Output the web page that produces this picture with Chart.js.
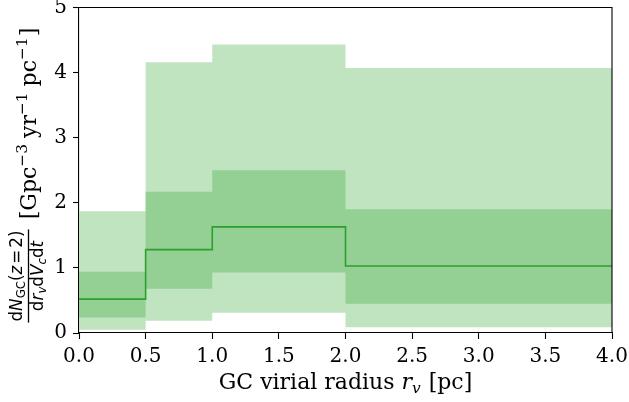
<!DOCTYPE html>
<html><head><meta charset="utf-8">
<script src="https://cdn.jsdelivr.net/npm/chart.js@4.4.0/dist/chart.umd.min.js"></script>
<style>html,body{margin:0;padding:0;background:#fff}#wrap{width:629px;height:402px}</style>
</head><body><div id="wrap"><canvas id="c" width="629" height="402"></canvas></div>
<script>
// Bin edges (GC virial radius, pc) and per-bin values
const binEdges = [0, 0.5, 1, 2, 4];
const median    = [0.52, 1.28, 1.63, 1.03];
const innerLow  = [0.24, 0.68, 0.93, 0.45];
const innerHigh = [0.94, 2.17, 2.50, 1.90];
const outerLow  = [0.05, 0.19, 0.31, 0.09];
const outerHigh = [1.87, 4.16, 4.43, 4.07];
const xTicks = [0, 0.5, 1, 1.5, 2, 2.5, 3, 3.5, 4];
const yTicks = [0, 1, 2, 3, 4, 5];

// point i sits at the left edge of bin i (last edge repeats the last bin)
function steps(vals) {
  return binEdges.map((x, i) => ({ x: x, y: vals[Math.min(i, vals.length - 1)] }));
}

const FS = 20;     // tick labels
const LS = 22;     // axis labels
const SERIF = '"DejaVu Serif", serif';
const SANS = '"DejaVu Sans", sans-serif';
const GREEN = '#2ca02c';
const LIGHT = '#c0e3c0';
const DARK = '#94cf94';
const NONE = 'rgba(0,0,0,0)';

function runsWidth(ctx, runs) {
  let w = 0;
  for (const r of runs) { ctx.font = r.f; w += ctx.measureText(r.t).width + (r.gap || 0); }
  return w;
}
function drawRuns(ctx, runs, x, y) {
  for (const r of runs) {
    ctx.font = r.f;
    ctx.fillText(r.t, x, y + (r.dy || 0));
    x += ctx.measureText(r.t).width + (r.gap || 0);
  }
}

const labelsPlugin = {
  id: 'labels',
  afterDraw(chart) {
    const ctx = chart.ctx;
    const a = chart.chartArea;
    ctx.save();
    // top and right spines
    ctx.strokeStyle = '#000';
    ctx.lineWidth = 1.1;
    ctx.beginPath();
    ctx.moveTo(a.left, a.top); ctx.lineTo(a.right, a.top); ctx.lineTo(a.right, a.bottom);
    ctx.stroke();

    ctx.fillStyle = '#000';
    ctx.textBaseline = 'alphabetic';
    ctx.textAlign = 'left';
    // x label
    const xr = [
      { t: 'GC virial radius ', f: LS + 'px ' + SERIF },
      { t: 'r', f: 'italic ' + LS + 'px ' + SERIF },
      { t: 'v', f: 'italic ' + (LS * 0.7) + 'px ' + SERIF, dy: 3.5, gap: 1 },
      { t: ' [pc]', f: LS + 'px ' + SERIF }
    ];
    const xw = runsWidth(ctx, xr);
    drawRuns(ctx, xr, (a.left + a.right) / 2 - xw / 2, 389);

    // y label (rotated)
    ctx.rotate(-Math.PI / 2);
    const NS = 16.8, NSS = NS * 0.7;
    const num = [
      { t: 'd', f: NS + 'px ' + SANS },
      { t: 'N', f: 'italic ' + NS + 'px ' + SANS },
      { t: 'GC', f: NSS + 'px ' + SANS, dy: 3 },
      { t: '(', f: NS + 'px ' + SANS },
      { t: 'z', f: 'italic ' + NS + 'px ' + SANS, gap: 2 },
      { t: '=', f: NS + 'px ' + SANS, gap: 2 },
      { t: '2', f: NS + 'px ' + SANS },
      { t: ')', f: NS + 'px ' + SANS }
    ];
    const den = [
      { t: 'd', f: NS + 'px ' + SANS },
      { t: 'r', f: 'italic ' + NS + 'px ' + SANS },
      { t: 'v', f: 'italic ' + NSS + 'px ' + SANS, dy: 3 },
      { t: 'd', f: NS + 'px ' + SANS },
      { t: 'V', f: 'italic ' + NS + 'px ' + SANS },
      { t: 'c', f: 'italic ' + NSS + 'px ' + SANS, dy: 3 },
      { t: 'd', f: NS + 'px ' + SANS },
      { t: 't', f: 'italic ' + NS + 'px ' + SANS }
    ];
    const fc = 276;
    const nw = runsWidth(ctx, num), dw = runsWidth(ctx, den);
    drawRuns(ctx, num, -(fc + nw / 2), 22);
    drawRuns(ctx, den, -(fc + dw / 2), 43);
    const bw = Math.max(nw, dw) + 2;
    ctx.lineWidth = 1.3;
    ctx.beginPath();
    ctx.moveTo(-(fc + bw / 2), 28.5); ctx.lineTo(-(fc - bw / 2), 28.5);
    ctx.stroke();

    const SS = LS * 0.7, sup = -9;
    const br = [
      { t: '[Gpc', f: LS + 'px ' + SERIF },
      { t: '\u22123', f: SS + 'px ' + SERIF, dy: sup, gap: 6 },
      { t: 'yr', f: LS + 'px ' + SERIF },
      { t: '\u22121', f: SS + 'px ' + SERIF, dy: sup, gap: 6 },
      { t: 'pc', f: LS + 'px ' + SERIF },
      { t: '\u22121', f: SS + 'px ' + SERIF, dy: sup, gap: 1 },
      { t: ']', f: LS + 'px ' + SERIF }
    ];
    const bwid = runsWidth(ctx, br);
    drawRuns(ctx, br, -(123.5 + bwid / 2), 36);
    ctx.restore();
  }
};

function ds(vals, opts) {
  return Object.assign({
    data: steps(vals), stepped: 'before', pointRadius: 0, pointHoverRadius: 0,
    borderColor: NONE, borderWidth: 1, fill: false, tension: 0
  }, opts);
}

const tickFont = { family: SERIF, size: FS };

new Chart(document.getElementById('c'), {
  type: 'line',
  data: {
    datasets: [
      ds(median, { borderColor: GREEN, borderWidth: 1.6 }),
      ds(innerHigh, { fill: 2, backgroundColor: DARK }),
      ds(innerLow, {}),
      ds(outerHigh, { fill: 4, backgroundColor: LIGHT }),
      ds(outerLow, {})
    ]
  },
  options: {
    responsive: false, animation: false, devicePixelRatio: 1,
    layout: { padding: { top: 7.5, right: 17, left: 0, bottom: 0 } },
    plugins: { legend: { display: false }, tooltip: { enabled: false } },
    events: [],
    scales: {
      x: {
        type: 'linear', min: 0, max: 4, z: 1,
        afterBuildTicks: s => { s.ticks = xTicks.map(v => ({ value: v })); },
        afterFit: s => { s.height = 69; s.paddingLeft = 0; s.paddingRight = 0; },
        ticks: { font: tickFont, color: '#000', padding: 6, maxRotation: 0, autoSkip: false,
                 callback: v => Number(v).toFixed(1) },
        grid: { drawOnChartArea: false, drawTicks: true, tickLength: 6, tickWidth: 1.1, tickColor: '#000' },
        border: { display: true, color: '#000', width: 1.1 }
      },
      y: {
        type: 'linear', min: 0, max: 5, z: 1,
        afterBuildTicks: s => { s.ticks = yTicks.map(v => ({ value: v })); },
        afterFit: s => { s.width = 79; s.paddingTop = 0; s.paddingBottom = 0; },
        ticks: { font: tickFont, color: '#000', padding: 6, autoSkip: false,
                 callback: v => String(v) },
        grid: { drawOnChartArea: false, drawTicks: true, tickLength: 6, tickWidth: 1.1, tickColor: '#000' },
        border: { display: true, color: '#000', width: 1.1 }
      }
    }
  },
  plugins: [labelsPlugin]
});
</script></body></html>
